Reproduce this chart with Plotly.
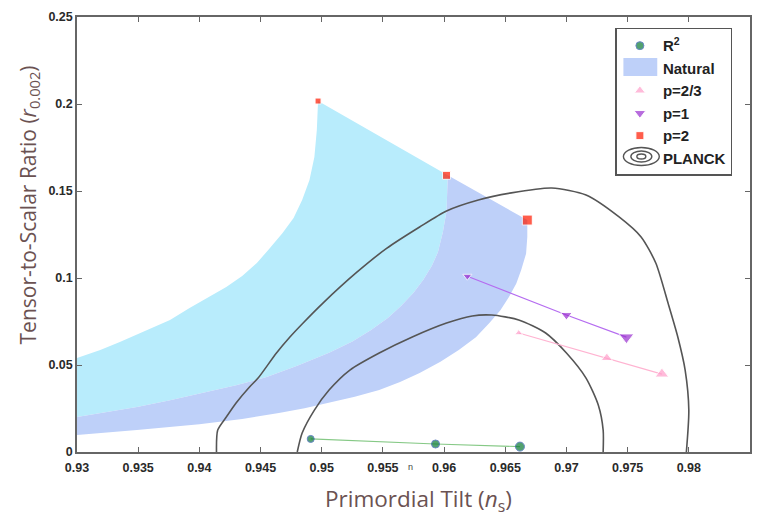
import plotly.graph_objects as go

# ---- model predictions (n_s, r) for N = 40, 50, 60 e-folds ----
ns_r2 = [0.9491, 0.9593, 0.9662]
r_r2 = [0.0075, 0.0046, 0.0031]

ns_p23 = [0.9661, 0.9733, 0.9778]
r_p23 = [0.0684, 0.0540, 0.0448]

ns_p1 = [0.9619, 0.9700, 0.9749]
r_p1 = [0.1010, 0.0787, 0.0660]

ns_p2 = [0.9497, 0.9602, 0.9668]
r_p2 = [0.2017, 0.1590, 0.1333]

# ---- natural inflation edges (N = 40, 50, 60) ----
nat40_ns = [0.9300, 0.9319, 0.9335, 0.9355, 0.9376, 0.9392, 0.9408, 0.9422, 0.9435, 0.9447,
            0.9457, 0.9468, 0.9477, 0.9484, 0.9490, 0.9494, 0.9496, 0.9497]
nat40_r = [0.0540, 0.0586, 0.0632, 0.0695, 0.0759, 0.0828, 0.0891, 0.0948, 0.1011, 0.1086,
           0.1167, 0.1259, 0.1345, 0.1448, 0.1563, 0.1695, 0.1851, 0.2017]

nat50_ns = [0.9300, 0.9325, 0.9349, 0.9376, 0.9403, 0.9430, 0.9455, 0.9480, 0.9506, 0.9525,
            0.9540, 0.9554, 0.9565, 0.9575, 0.9583, 0.9590, 0.9595, 0.9599, 0.9602, 0.9603]
nat50_r = [0.0201, 0.0229, 0.0259, 0.0297, 0.0339, 0.0383, 0.0431, 0.0495, 0.0570, 0.0635,
           0.0700, 0.0770, 0.0840, 0.0915, 0.0990, 0.1070, 0.1149, 0.1265, 0.1385, 0.1590]

nat60_ns = [0.9300, 0.9349, 0.9400, 0.9435, 0.9465, 0.9486, 0.9506, 0.9527, 0.9547, 0.9564,
            0.9580, 0.9597, 0.9612, 0.9626, 0.9637, 0.9646, 0.9653, 0.9659, 0.9663, 0.9667,
            0.9668, 0.9668]
nat60_r = [0.0098, 0.0126, 0.0160, 0.0190, 0.0224, 0.0252, 0.0282, 0.0317, 0.0356, 0.0402,
           0.0454, 0.0518, 0.0586, 0.0660, 0.0741, 0.0815, 0.0891, 0.0968, 0.1046, 0.1140,
           0.1236, 0.1333]

# ---- PLANCK 68% / 95% contours ----
planck95_ns = [0.9414, 0.9415, 0.9422, 0.9430, 0.9441, 0.9448, 0.9463, 0.9474, 0.9484, 0.9501,
               0.9528, 0.9553, 0.9580, 0.9602, 0.9628, 0.9655, 0.9688, 0.9716, 0.9743, 0.9761,
               0.9773, 0.9783, 0.9791, 0.9797, 0.9800, 0.9798]
planck95_r = [0.0000, 0.0126, 0.0201, 0.0282, 0.0374, 0.0425, 0.0569, 0.0661, 0.0736, 0.0856,
              0.1029, 0.1170, 0.1293, 0.1385, 0.1448, 0.1489, 0.1517, 0.1477, 0.1351, 0.1236,
              0.1086, 0.0856, 0.0661, 0.0471, 0.0241, 0.0000]

planck68_ns = [0.9480, 0.9484, 0.9494, 0.9506, 0.9523, 0.9547, 0.9574, 0.9602, 0.9623, 0.9639,
               0.9661, 0.9683, 0.9700, 0.9716, 0.9726, 0.9730, 0.9730]
planck68_r = [0.0000, 0.0109, 0.0241, 0.0356, 0.0471, 0.0569, 0.0661, 0.0741, 0.0782, 0.0787,
              0.0759, 0.0684, 0.0569, 0.0425, 0.0270, 0.0126, 0.0000]

x_ticks = [0.93, 0.935, 0.94, 0.945, 0.95, 0.955, 0.96, 0.965, 0.97, 0.975, 0.98]
x_tick_labels = ["0.93", "0.935", "0.94", "0.945", "0.95", "0.955", "0.96", "0.965", "0.97", "0.975", "0.98"]
y_ticks = [0, 0.05, 0.1, 0.15, 0.2, 0.25]
y_tick_labels = ["0", "0.05", "0.1", "0.15", "0.2", "0.25"]

CYAN = "rgb(184,236,252)"
LAVENDER = "rgb(190,208,249)"
CONTOUR = "#555555"

fig = go.Figure()

# natural inflation band: N 40-50 (cyan) and N 50-60 (lavender)
fig.add_trace(go.Scatter(
    x=nat40_ns + nat50_ns[::-1], y=nat40_r + nat50_r[::-1],
    mode="lines", fill="toself", fillcolor=CYAN, line=dict(width=0),
    showlegend=False, hoverinfo="skip"))
fig.add_trace(go.Scatter(
    x=nat50_ns + nat60_ns[::-1], y=nat50_r + nat60_r[::-1],
    mode="lines", fill="toself", fillcolor=LAVENDER, line=dict(width=0),
    showlegend=False, hoverinfo="skip"))

# PLANCK contours
for xs, ys in [(planck95_ns, planck95_r), (planck68_ns, planck68_r)]:
    fig.add_trace(go.Scatter(x=xs, y=ys, mode="lines",
                             line=dict(color=CONTOUR, width=1.6, shape="spline", smoothing=0.7),
                             showlegend=False, hoverinfo="skip"))

# connecting lines
for xs, ys, col in [(ns_r2, r_r2, "#86c986"), (ns_p23, r_p23, "#ffb3d1"),
                    (ns_p1, r_p1, "#b56cf0")]:
    fig.add_trace(go.Scatter(x=xs, y=ys, mode="lines", line=dict(color=col, width=1.2),
                             showlegend=False, hoverinfo="skip"))

# markers
fig.add_trace(go.Scatter(x=ns_r2, y=r_r2, mode="markers", name="R<sup>2</sup>", legendrank=1,
                         marker=dict(symbol="circle", size=[7, 8, 9], color="#0a7a33",
                                     line=dict(color="#2a55b0", width=1))))
fig.add_trace(go.Scatter(x=ns_p23, y=r_p23, mode="markers", name="p=2/3", legendrank=3,
                         marker=dict(symbol="triangle-up", size=[7, 10, 12], color="#ff9fcb")))
fig.add_trace(go.Scatter(x=ns_p1, y=r_p1, mode="markers", name="p=1", legendrank=4,
                         marker=dict(symbol="triangle-down", size=[8, 10, 13], color="#9a2fd0")))
fig.add_trace(go.Scatter(x=ns_p2, y=r_p2, mode="markers", name="p=2", legendrank=5,
                         marker=dict(symbol="square", size=[6, 8, 10], color="#ff1a00")))

# legend entries whose icons are drawn as shapes
for nm, rank in [("Natural", 2), ("PLANCK", 6)]:
    fig.add_trace(go.Scatter(x=[None], y=[None], mode="markers", name=nm, legendrank=rank,
                             marker=dict(size=1, color="rgba(0,0,0,0)")))

axis_common = dict(showline=True, linecolor="#666666", linewidth=1.5, mirror="ticks",
                   ticks="inside", ticklen=5, tickcolor="#666666", showgrid=False, zeroline=False,
                   tickfont=dict(family="Liberation Sans", size=12.5, color="#2a2a2a", weight="bold"))

fig.update_xaxes(range=[0.93, 0.985], tickvals=x_ticks, ticktext=x_tick_labels,
                 ticklabelstandoff=3, **axis_common)
fig.update_yaxes(range=[0, 0.25], tickvals=y_ticks, ticktext=y_tick_labels, **axis_common)

fig.add_annotation(text="Primordial Tilt (<i>n</i><sub>s</sub>)", xref="paper", yref="paper",
                   x=0.508, y=-0.11, showarrow=False, yanchor="middle",
                   font=dict(family="Open Sans", size=22.5, color="#6b5252"))
fig.add_annotation(text="Tensor-to-Scalar Ratio (<i>r</i><sub>0.002</sub>)", xref="paper", yref="paper",
                   x=-0.072, y=0.568, textangle=-90, showarrow=False,
                   xanchor="center", yanchor="middle",
                   font=dict(family="Open Sans", size=21, color="#6b5252"))
fig.add_annotation(text="n", xref="paper", yref="paper", x=0.496, y=-0.05, showarrow=False,
                   font=dict(family="Liberation Sans", size=9, color="#444444"))

# legend icons: Natural swatch and PLANCK nested ellipses (paper coordinates)
shapes = [dict(type="rect", xref="paper", yref="paper", x0=0.8119, x1=0.8622, y0=0.8644, y1=0.9057,
               fillcolor=LAVENDER, line=dict(width=0), layer="above")]
for (ex0, ex1, ey0, ey1) in [(0.8119, 0.8652, 0.6586, 0.7000), (0.8230, 0.8541, 0.6667, 0.6920),
                             (0.8319, 0.8452, 0.6736, 0.6851)]:
    shapes.append(dict(type="circle", xref="paper", yref="paper", x0=ex0, x1=ex1, y0=ey0, y1=ey1,
                       line=dict(color=CONTOUR, width=1.4), layer="above"))

fig.update_layout(
    width=759, height=521,
    margin=dict(l=77, r=7, t=17, b=69),
    plot_bgcolor="white", paper_bgcolor="white",
    shapes=shapes,
    legend=dict(x=0.8, y=0.975, xanchor="left", yanchor="top",
                bgcolor="rgba(255,255,255,0)", bordercolor="#555555", borderwidth=1.5,
                font=dict(family="Liberation Sans", size=15, color="#222222", weight="bold"),
                itemwidth=36, tracegroupgap=0),
)

fig.write_html("out.html")
